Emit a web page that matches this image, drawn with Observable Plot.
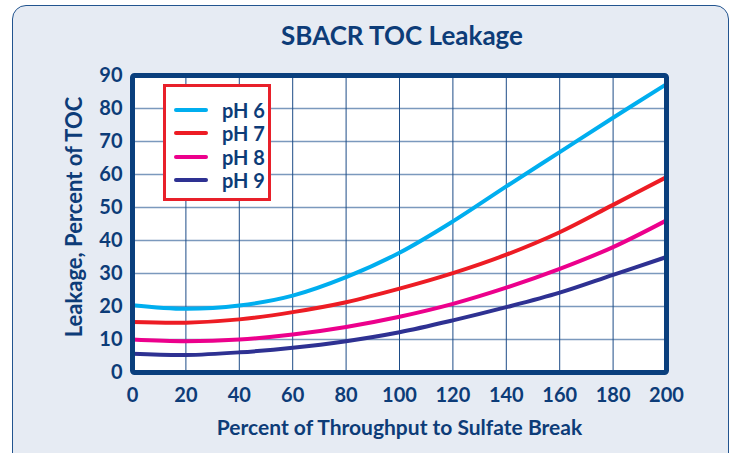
<!DOCTYPE html>
<html>
<head>
<meta charset="utf-8">
<script src="https://cdn.jsdelivr.net/npm/d3@7"></script>
<script src="https://cdn.jsdelivr.net/npm/@observablehq/plot@0.6"></script>
<style>
  html, body { margin: 0; padding: 0; background: #ffffff; }
  #wrap { position: relative; width: 737px; height: 453px; overflow: hidden; background: #ffffff; font-family: Lato, "Open Sans", sans-serif; }
  #panel { position: absolute; left: 12px; top: 5px; width: 717px; height: 470px; border: 1.5px solid #22548f; border-radius: 14px; background: #e6ebf3; box-sizing: border-box; }
  #title { position: absolute; left: 0; width: 804px; top: 20px; text-align: center; font-weight: 700; font-size: 26px; color: #0d3c78; line-height: 30px; }
  #chart { position: absolute; left: 0; top: 0; }
  #chart svg text { font-weight: 700; }
  #legend { position: absolute; left: 163px; top: 84px; width: 108px; height: 117px; border: 3px solid #e8202a; background: #ffffff; box-sizing: border-box; padding-top: 11px; }
  .row { display: flex; align-items: center; height: 23.5px; }
  .sw { margin-left: 8px; width: 34px; height: 4px; border-radius: 2px; }
  .lb { margin-left: 14px; font-weight: 700; font-size: 20px; color: #0d3c78; }
</style>
</head>
<body>
<div id="wrap">
  <div id="panel"></div>
  <div id="title"></div>
  <div id="chart"></div>
  <div id="legend"></div>
</div>
<script>
const titleText = "SBACR TOC Leakage";
const xLabel = "Percent of Throughput to Sulfate Break";
const yLabel = "Leakage, Percent of TOC";
const xTicks = [0, 20, 40, 60, 80, 100, 120, 140, 160, 180, 200];
const yTicks = [0, 10, 20, 30, 40, 50, 60, 70, 80, 90];
const series = ["pH 6", "pH 7", "pH 8", "pH 9"];
const colors = ["#00aeef", "#ed1c24", "#ec008c", "#2e3192"];
const throughput = [0, 20, 40, 60, 80, 100, 120, 140, 160, 180, 200];
const ph6 = [20.4, 19.3, 20.3, 23.3, 28.9, 36.3, 45.8, 56.4, 66.8, 77.2, 87.4];
const ph7 = [15.3, 15.1, 16.1, 18.3, 21.3, 25.4, 30.1, 35.7, 42.5, 50.8, 59.2];
const ph8 = [10.0, 9.5, 10.0, 11.5, 13.8, 16.9, 20.8, 25.7, 31.4, 38.0, 46.1];
const ph9 = [5.7, 5.3, 6.1, 7.5, 9.5, 12.2, 15.8, 19.8, 24.2, 29.6, 35.0];

const navy = "#0d3c78";
const valuesBySeries = [ph6, ph7, ph8, ph9];
const rows = [];
series.forEach((s, i) => throughput.forEach((x, j) => rows.push({series: s, x, y: valuesBySeries[i][j]})));

document.getElementById("title").textContent = titleText;

const chart = Plot.plot({
  width: 737,
  height: 453,
  marginLeft: 132,
  marginRight: 71,
  marginTop: 75,
  marginBottom: 81,
  style: {background: "transparent", fontFamily: "Lato, 'Open Sans', sans-serif", color: navy, overflow: "visible"},
  x: {domain: [0, 200]},
  y: {domain: [0, 90]},
  color: {domain: series, range: colors},
  marks: [
    Plot.frame({fill: "white"}),
    Plot.gridY(yTicks, {stroke: "#7b99bd", strokeOpacity: 1, strokeWidth: 1.5}),
    Plot.gridX(xTicks, {stroke: "#1d4c87", strokeOpacity: 1, strokeWidth: 1}),
    Plot.line(rows, {x: "x", y: "y", z: "series", stroke: "series", curve: "catmull-rom", strokeWidth: 4}),
    Plot.frame({stroke: "#0a3f7d", strokeWidth: 5, rx: 2}),
    Plot.axisX(xTicks, {tickSize: 0, tickPadding: 15, fontSize: 20, label: null, fill: navy}),
    Plot.axisY(yTicks, {tickSize: 0, tickPadding: 10, fontSize: 20, label: null, fill: navy}),
    Plot.text([xLabel], {frameAnchor: "bottom", dy: 62, text: d => d, fontSize: 21, fill: navy}),
    Plot.text([yLabel], {frameAnchor: "left", textAnchor: "middle", rotate: -90, dx: -58, dy: -7, text: d => d, fontSize: 22, fill: navy})
  ]
});
document.getElementById("chart").appendChild(chart);

const legend = document.getElementById("legend");
series.forEach((s, i) => {
  const row = document.createElement("div");
  row.className = "row";
  const sw = document.createElement("div");
  sw.className = "sw";
  sw.style.background = colors[i];
  const lb = document.createElement("div");
  lb.className = "lb";
  lb.textContent = s;
  row.appendChild(sw);
  row.appendChild(lb);
  legend.appendChild(row);
});
</script>
</body>
</html>
